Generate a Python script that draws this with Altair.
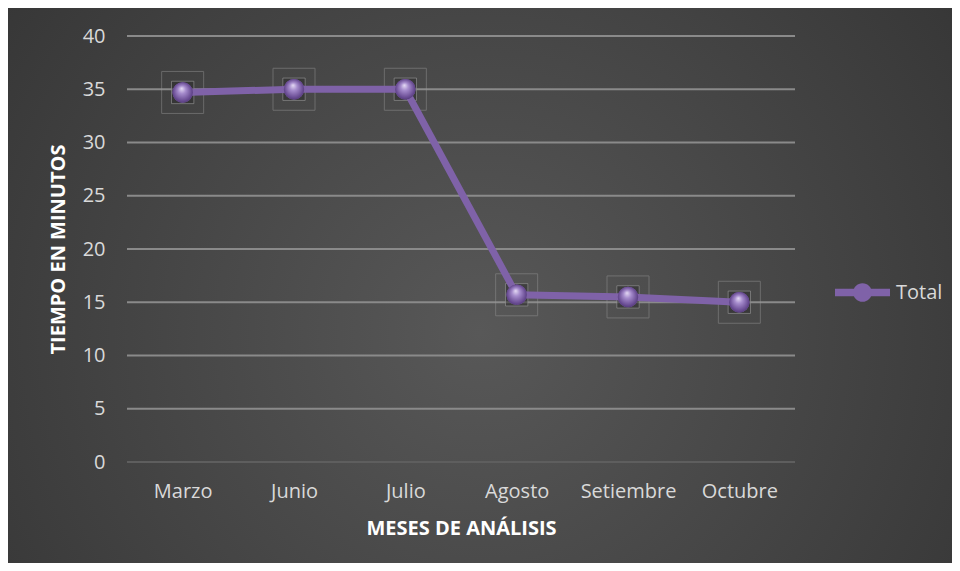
import altair as alt
import pandas as pd

meses = ["Marzo", "Junio", "Julio", "Agosto", "Setiembre", "Octubre"]
tiempo = [34.7, 35.0, 35.0, 15.7, 15.5, 15.0]
serie = ["Total"] * len(meses)
y_ticks = [0, 5, 10, 15, 20, 25, 30, 35, 40]

df = pd.DataFrame({"mes": meses, "tiempo": tiempo, "serie": serie})
grid_df = pd.DataFrame({"tiempo": y_ticks})

PURPLE = "#7f62a8"
FONT = "Open Sans"
W, H = 668, 426
PL, PT, PR, PB = 119, 28, 157, 101

x_enc = alt.X("mes:N", sort=meses, scale=alt.Scale(type="point", padding=0.5),
              axis=alt.Axis(title="MESES DE ANÁLISIS", labelAngle=0, labelPadding=19,
                            titlePadding=17, domain=False, ticks=False, grid=False, zindex=1))
y_scale = alt.Scale(domain=[0, 40])
y_axis = alt.Axis(title="TIEMPO EN MINUTOS", values=y_ticks,
                  labelPadding=22, titlePadding=14, domain=False, ticks=False,
                  grid=False, zindex=1)
y_enc = alt.Y("tiempo:Q", scale=y_scale, axis=y_axis)

bg = alt.Chart(alt.Data(values=[{}])).mark_rect(
    fill=alt.RadialGradient(
        gradient="radial",
        stops=[alt.GradientStop(offset=0, color="#585858"),
               alt.GradientStop(offset=1, color="#2e2e2e")],
        x1=0.5, y1=0.55, r1=0, x2=0.5, y2=0.55, r2=0.78),
).encode(x=alt.value(-PL), x2=alt.value(W + PR), y=alt.value(-PT), y2=alt.value(H + PB))

grid = alt.Chart(grid_df).mark_rule(strokeWidth=2).encode(
    y=y_enc,
    color=alt.condition("datum.tiempo === 0", alt.value("#5e5e5e"), alt.value("#8a8a8a")),
)

base = alt.Chart(df).encode(x=x_enc, y=y_enc)

big_sq = base.mark_point(shape="square", size=1764, filled=False, stroke="#9a9a9a",
                         strokeWidth=1, opacity=0.45)
small_sq = base.mark_point(shape="square", size=500, filled=True, fill="#2a2a2a",
                           fillOpacity=0.5, stroke="#9a9a9a", strokeWidth=1, strokeOpacity=0.6)
line = base.mark_line(color=PURPLE, strokeWidth=7, strokeCap="round")

legend_path = ("M-1,-0.14 L1,-0.14 L1,0.14 L-1,0.14 Z "
               "M0.34,0 A0.34,0.34 0 1,1 -0.34,0 A0.34,0.34 0 1,1 0.34,0 Z")

flat_pts = base.mark_point(filled=True, size=420, opacity=1).encode(
    color=alt.Color("serie:N", scale=alt.Scale(range=[PURPLE]),
                    legend=alt.Legend(title=None, orient="none", legendX=708, legendY=229,
                                      symbolType=legend_path, symbolSize=3025,
                                      symbolStrokeWidth=0, labelFontSize=20,
                                      labelColor="#d9d9d9", labelFont=FONT, labelOffset=6))
)
balls = base.mark_circle(
    size=420, opacity=1,
    fill=alt.RadialGradient(
        gradient="radial",
        stops=[alt.GradientStop(offset=0, color="#e6dcf5"),
               alt.GradientStop(offset=0.35, color="#a58bcc"),
               alt.GradientStop(offset=0.8, color="#6a4d94"),
               alt.GradientStop(offset=1, color="#4e3572")],
        x1=0.45, y1=0.3, r1=0, x2=0.5, y2=0.5, r2=0.55),
)

chart = alt.layer(bg, grid, big_sq, small_sq, line, flat_pts, balls).properties(
    width=W, height=H,
    padding={"left": PL, "top": PT, "right": PR, "bottom": PB},
    autosize=alt.AutoSizeParams(type="none"),
    background="#3a3a3a",
).configure_view(stroke=None).configure_axis(
    labelFont=FONT, labelFontSize=20, labelColor="#d9d9d9",
    titleFont=FONT, titleFontSize=20, titleFontWeight="bold", titleColor="#ffffff",
)

chart.save("out.html", embed_options={"renderer": "svg", "actions": False})
